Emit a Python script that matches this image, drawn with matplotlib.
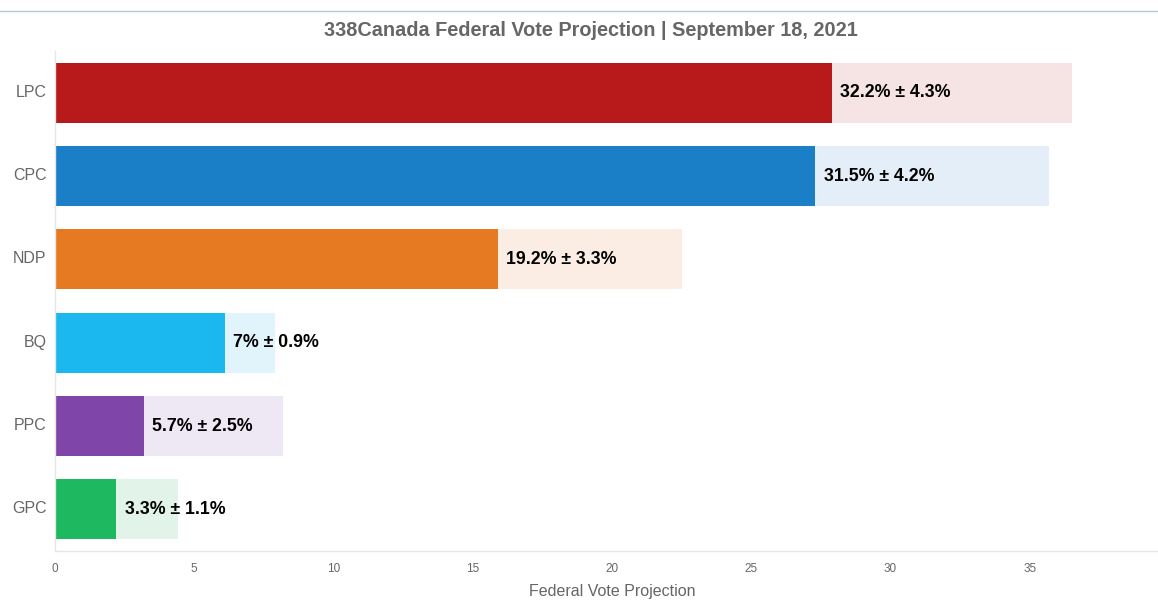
import matplotlib
matplotlib.use("Agg")
import matplotlib.pyplot as plt
from matplotlib.lines import Line2D
from matplotlib.transforms import ScaledTranslation

parties = ["LPC", "CPC", "NDP", "BQ", "PPC", "GPC"]
values = [32.2, 31.5, 19.2, 7.0, 5.7, 3.3]
errors = [4.3, 4.2, 3.3, 0.9, 2.5, 1.1]
value_text = ["32.2", "31.5", "19.2", "7", "5.7", "3.3"]
error_text = ["4.3", "4.2", "3.3", "0.9", "2.5", "1.1"]
dark_colors = ["#B8191B", "#1A7FC7", "#E67A22", "#1BB8EF", "#8045A9", "#1DB85F"]
light_colors = ["#F6E3E3", "#E3EEF8", "#FBEDE3", "#E1F4FC", "#EEE7F4", "#E2F4E9"]
xticks = [0, 5, 10, 15, 20, 25, 30, 35]

plt.rcParams['font.family'] = ['Liberation Sans', 'DejaVu Sans']

W, H = 1158, 611
fig = plt.figure(figsize=(W / 100, H / 100), dpi=100)
left, right, top, bottom = 55, 1169, 51, 551
ax = fig.add_axes([left / W, 1 - bottom / H, (right - left) / W, (bottom - top) / H])
ax.set_clip_on(False)

y = list(range(len(parties)))
lows = [v - e for v, e in zip(values, errors)]
ax.barh(y, lows, height=0.72, color=dark_colors, zorder=2)
ax.barh(y, [2 * e for e in errors], left=lows, height=0.72, color=light_colors, zorder=2)
for yi, lo, vt, et in zip(y, lows, value_text, error_text):
    ax.text(lo + 0.3, yi, f"{vt}% ± {et}%", va="center", ha="left",
            fontsize=12.8, fontweight="bold", color="#000000", zorder=3)

ax.set_ylim(len(parties) - 0.5, -0.5)
ax.set_xlim(0, 40)
ax.set_yticks(y)
ax.set_yticklabels(parties, fontsize=11.5, color="#666666")
ax.set_xticks(xticks)
ax.set_xticklabels([str(t) for t in xticks], fontsize=8.5, color="#666666")
ax.tick_params(axis="y", length=0, pad=6)
ax.tick_params(axis="x", length=0, pad=9)
shift = ScaledTranslation(0, 2 / 100, fig.dpi_scale_trans)
for lbl in ax.get_yticklabels():
    lbl.set_transform(lbl.get_transform() + shift)
for s in ["top", "right"]:
    ax.spines[s].set_visible(False)
ax.spines["left"].set_color("#E6E6E6")
ax.spines["bottom"].set_color("#E6E6E6")
ax.spines["left"].set_linewidth(1)
ax.spines["bottom"].set_linewidth(1)
ax.set_xlabel("Federal Vote Projection", fontsize=11.5, color="#666666", labelpad=6)

fig.text(591 / W, 1 - 30 / H, "338Canada Federal Vote Projection | September 18, 2021",
         ha="center", va="center", fontsize=14.3, fontweight="bold", color="#666666")
fig.add_artist(Line2D([0, 1], [1 - 10.5 / H, 1 - 10.5 / H], transform=fig.transFigure,
                      color="#B8C7D6", linewidth=1))

fig.savefig("out.png", dpi=100)
